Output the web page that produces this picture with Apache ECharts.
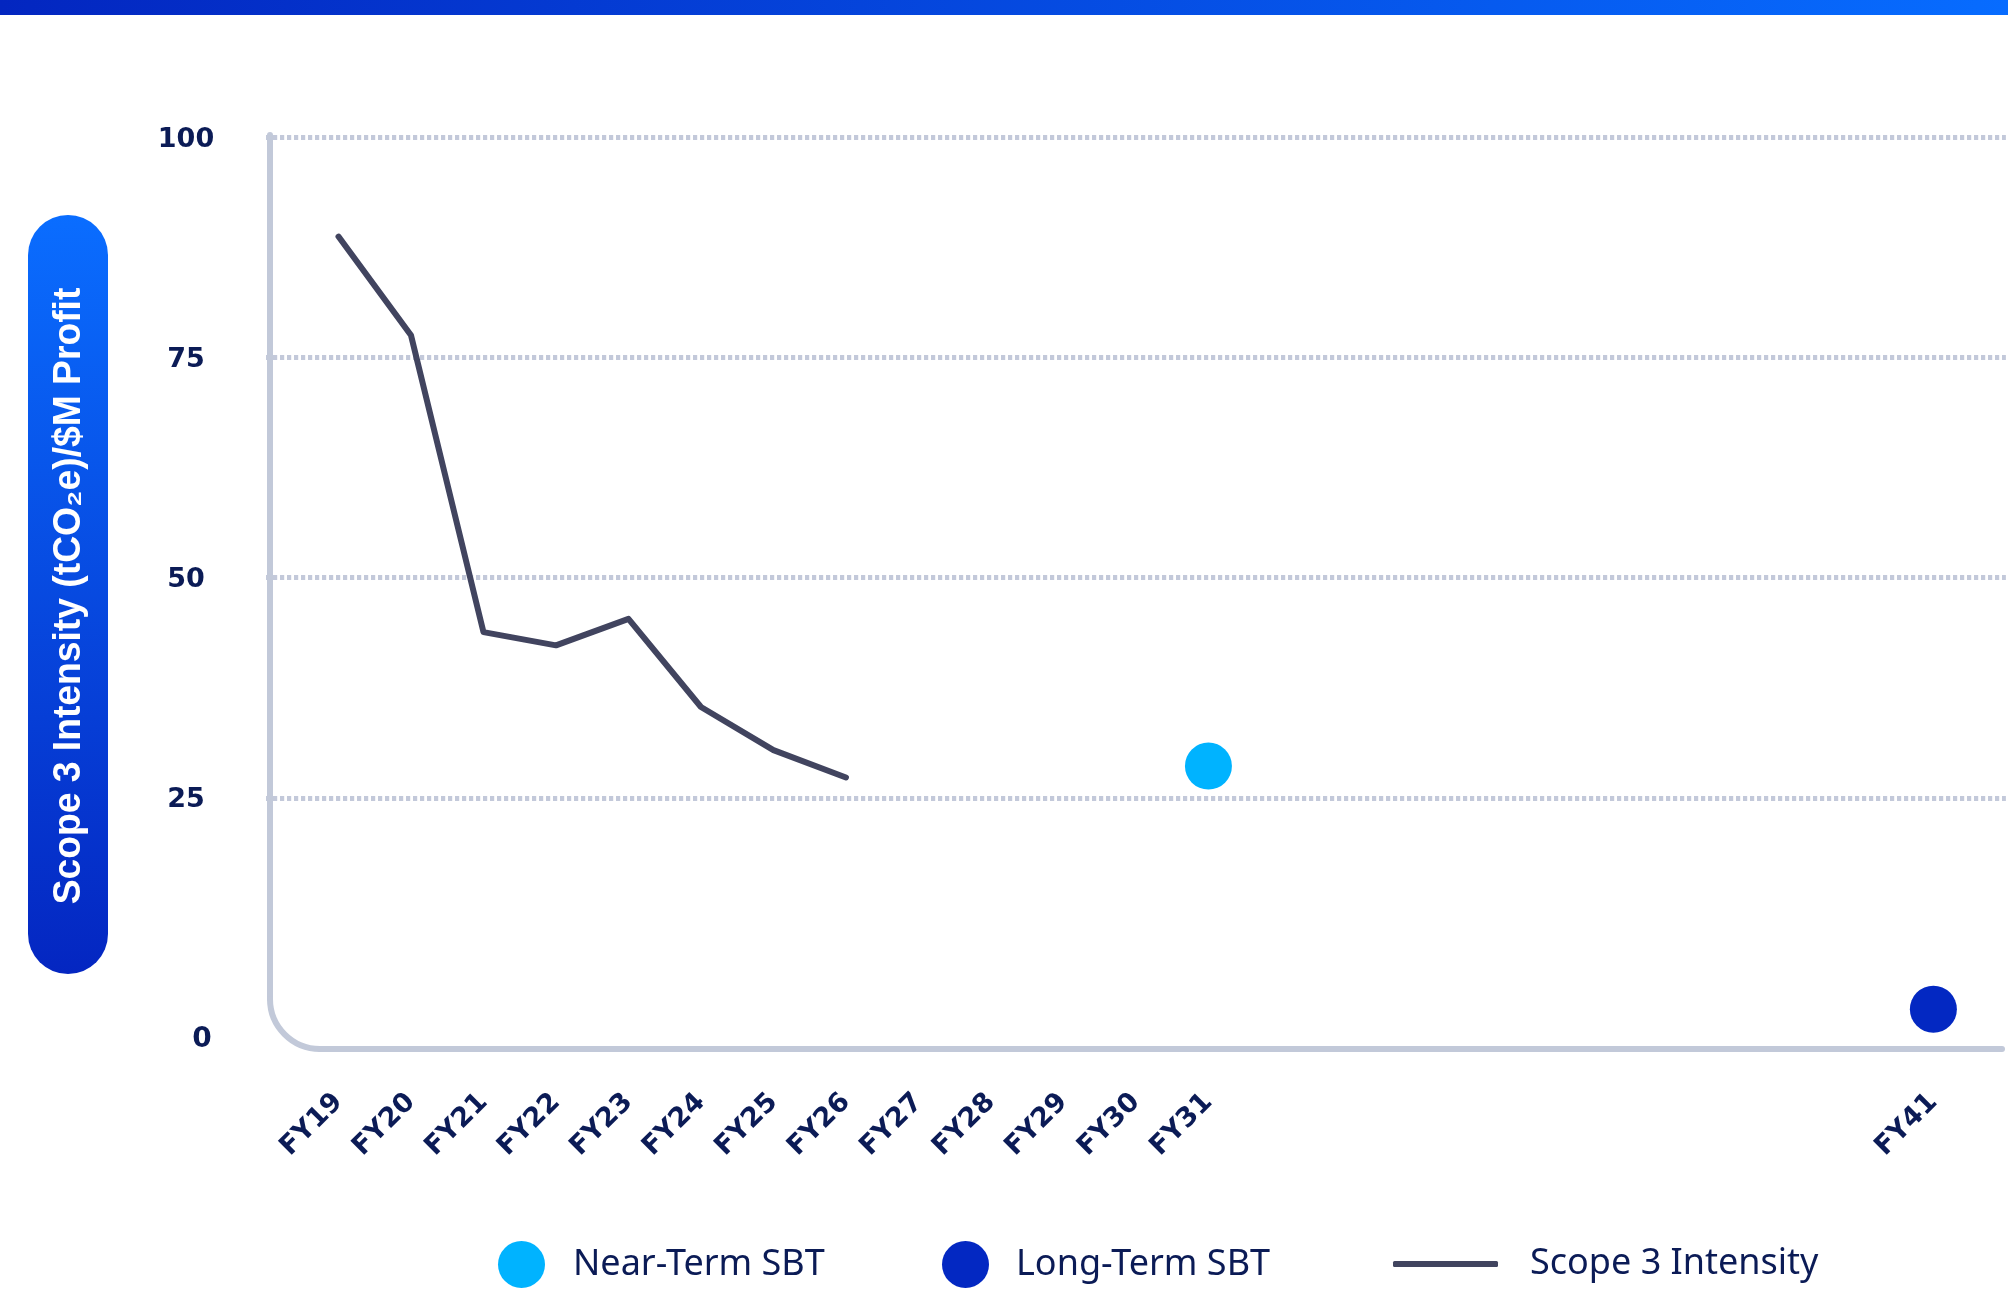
<!DOCTYPE html>
<html>
<head>
<meta charset="utf-8">
<script src="https://cdn.jsdelivr.net/npm/echarts@6/dist/echarts.min.js"></script>
<style>
  html, body { margin: 0; padding: 0; background: #fff; }
  #chart { width: 2008px; height: 1289px; }
</style>
</head>
<body>
<div id="chart"></div>
<script>
// values
const intensityYears = [19, 20, 21, 22, 23, 24, 25, 26]
const intensityValues = [88.7, 77.5, 43.8, 42.3, 45.3, 35.3, 30.4, 27.3]
const nearTermYears = [31]
const nearTermValues = [28.6]
const longTermYears = [41]
const longTermValues = [1.0]
const labeledYears = [19, 20, 21, 22, 23, 24, 25, 26, 27, 28, 29, 30, 31, 41]
const yTicks = [0, 25, 50, 75, 100]

const pairs = (xs, ys) => xs.map((x, i) => [x, ys[i]])

const navy = '#0b1b56'
const axisGrey = '#c2c9d9'

let myChart = echarts.init(document.getElementById('chart'))

function legendFor (name, left, top, w, h, icon, gap) {
  return {
    data: [name],
    left: left,
    top: top,
    padding: 0,
    itemWidth: w,
    itemHeight: h,
    icon: icon,
    selectedMode: false,
    textStyle: {
      fontFamily: 'Noto Sans',
      fontSize: 36,
      color: navy,
      padding: [0, 0, 0, gap]
    }
  }
}

const frameStyle = { fill: null, stroke: axisGrey, lineWidth: 6, lineCap: 'round' }

myChart.setOption({
  animation: false,
  backgroundColor: '#fff',
  grid: {
    left: 266,
    right: 2,
    top: 137,
    bottom: 271
  },
  legend: [
    legendFor('Near-Term SBT', 498, 1241, 47, 47, 'circle', 23),
    legendFor('Long-Term SBT', 942, 1241, 47, 47, 'circle', 22),
    legendFor('Scope 3 Intensity', 1393, 1246, 105, 6, 'roundRect', 27)
  ],
  xAxis: {
    type: 'value',
    min: 18,
    max: 42,
    interval: 1,
    offset: 31,
    axisLine: { show: false },
    axisTick: { show: false },
    splitLine: { show: false },
    axisLabel: {
      rotate: 45,
      margin: 49,
      color: navy,
      fontFamily: 'DejaVu Sans',
      fontWeight: 'bold',
      fontSize: 27,
      formatter: v => labeledYears.indexOf(v) >= 0 ? 'FY' + v : ''
    }
  },
  yAxis: {
    type: 'value',
    min: yTicks[0],
    max: yTicks[yTicks.length - 1],
    interval: 25,
    axisLine: { show: false },
    axisTick: { show: false },
    splitLine: {
      show: true,
      showMinLine: false,
      lineStyle: {
        color: '#c3c9da',
        width: 5,
        type: [4.2, 2.8],
        cap: 'butt'
      }
    },
    axisLabel: {
      align: 'center',
      margin: 80,
      formatter: v => v === 0 ? '{z|0}' : '{n|' + v + '}',
      rich: {
        n: {
          color: navy,
          fontFamily: 'DejaVu Sans',
          fontWeight: 'bold',
          fontSize: 27,
          padding: [5, 0, 0, 0]
        },
        z: {
          color: navy,
          fontFamily: 'DejaVu Sans',
          fontWeight: 'bold',
          fontSize: 28,
          padding: [44, 0, 0, 32]
        }
      }
    }
  },
  graphic: [
    {
      type: 'rect',
      shape: { x: 0, y: 0, width: 2008, height: 15 },
      style: {
        fill: new echarts.graphic.LinearGradient(0, 0, 1, 0, [
          { offset: 0, color: '#0326c0' },
          { offset: 1, color: '#076cff' }
        ])
      }
    },
    // axis frame with the rounded corner
    { type: 'line', shape: { x1: 270, y1: 135, x2: 270, y2: 999 }, style: frameStyle, z: 1 },
    { type: 'arc', shape: { cx: 320, cy: 999, r: 50, startAngle: Math.PI / 2, endAngle: Math.PI, clockwise: true }, style: frameStyle, z: 1 },
    { type: 'line', shape: { x1: 320, y1: 1049, x2: 2002, y2: 1049 }, style: frameStyle, z: 1 },
    {
      type: 'rect',
      shape: { x: 28, y: 215, width: 80, height: 759, r: 40 },
      style: {
        fill: new echarts.graphic.LinearGradient(0, 0, 0, 1, [
          { offset: 0, color: '#0a6dff' },
          { offset: 1, color: '#0426c1' }
        ])
      }
    },
    {
      type: 'text',
      x: 70,
      y: 596,
      rotation: Math.PI / 2,
      scaleX: 0.98,
      style: {
        text: 'Scope 3 Intensity (tCO₂e)/$M Profit',
        fill: '#fff',
        fontFamily: 'Liberation Sans',
        fontWeight: 'bold',
        fontSize: 38,
        align: 'center',
        verticalAlign: 'middle'
      }
    }
  ],
  series: [
    {
      name: 'Near-Term SBT',
      type: 'scatter',
      symbolSize: 47,
      data: pairs(nearTermYears, nearTermValues),
      itemStyle: { color: '#00b3ff', opacity: 1 },
      z: 4
    },
    {
      name: 'Long-Term SBT',
      type: 'scatter',
      symbolSize: 47,
      data: pairs(longTermYears, longTermValues),
      itemStyle: { color: '#0328c2', opacity: 1 },
      z: 4
    },
    {
      name: 'Scope 3 Intensity',
      type: 'line',
      data: pairs(intensityYears, intensityValues),
      showSymbol: false,
      symbol: 'none',
      color: '#41445f',
      lineStyle: { color: '#41445f', width: 6, cap: 'round', join: 'round' },
      z: 3
    }
  ]
})
</script>
</body>
</html>
